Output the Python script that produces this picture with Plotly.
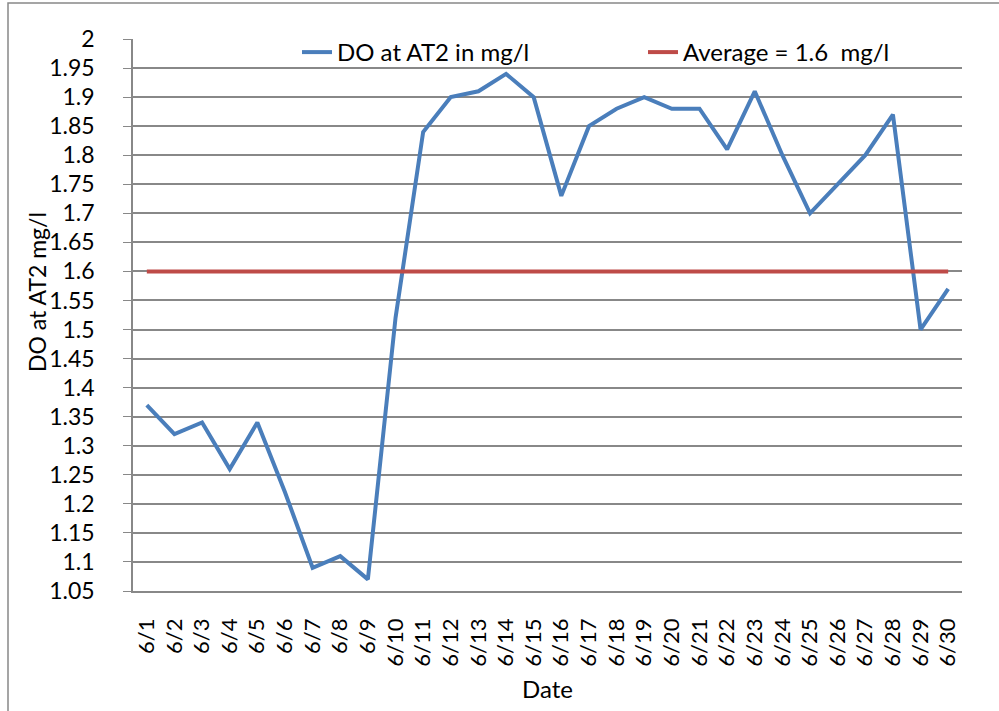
import plotly.graph_objects as go

# DO readings at AT2 for June
dates = ["6/" + str(d) for d in range(1, 31)]
do_at2 = [1.37, 1.32, 1.34, 1.26, 1.34, 1.22, 1.09, 1.11, 1.07, 1.52,
          1.84, 1.90, 1.91, 1.94, 1.90, 1.73, 1.85, 1.88, 1.90, 1.88,
          1.88, 1.81, 1.91, 1.80, 1.70, 1.75, 1.80, 1.87, 1.50, 1.57]
average = 1.6
y_ticks = [round(1.05 + 0.05 * i, 2) for i in range(20)]
y_labels = ["%g" % v for v in y_ticks]

W, H = 999, 711
L, R, T, B = 133, 37, 39, 120
pw, ph = W - L - R, H - T - B

def px_x(p):
    return (p - L) / pw

def px_y(p):
    return (H - B - p) / ph

font = "Lato, Carlito, Calibri, sans-serif"

fig = go.Figure()
fig.add_trace(go.Scatter(x=dates, y=do_at2, mode="lines", name="DO at AT2 in mg/l",
                         line=dict(color="#4a7ebb", width=4)))
fig.add_trace(go.Scatter(x=[dates[0], dates[-1]], y=[average, average], mode="lines",
                         name="Average = 1.6  mg/l",
                         line=dict(color="#be4b48", width=4)))

fig.update_layout(
    width=W, height=H,
    margin=dict(l=L, r=R, t=T, b=B, autoexpand=False),
    paper_bgcolor="white", plot_bgcolor="white",
    font=dict(family=font, size=22, color="black"),
    showlegend=True,
    legend=dict(orientation="h", x=px_x(297), y=px_y(30), xanchor="left", yanchor="top",
                entrywidth=301, entrywidthmode="pixels",
                bgcolor="rgba(0,0,0,0)", font=dict(size=24)),
    xaxis=dict(type="category", range=[-0.5, len(dates) - 0.5], tickangle=-90,
               showgrid=False, showline=True, linecolor="#888888", linewidth=1.5,
               ticks="", tickfont=dict(size=22), ticklabelstandoff=17),
    yaxis=dict(range=[1.05, 2.0], tickvals=y_ticks, ticktext=y_labels,
               showgrid=True, gridcolor="#888888", gridwidth=1.5,
               showline=True, linecolor="#888888", linewidth=1.5,
               ticks="outside", ticklen=8, tickcolor="#888888",
               tickfont=dict(size=23), ticklabelstandoff=24, zeroline=False),
    annotations=[
        dict(text="DO at AT2 mg/l", xref="paper", yref="paper", x=px_x(37), y=px_y(292),
             textangle=-90, showarrow=False, xanchor="center", yanchor="middle",
             font=dict(size=23)),
        dict(text="Date", xref="paper", yref="paper", x=px_x(547), y=px_y(688),
             showarrow=False, xanchor="center", yanchor="middle", font=dict(size=24)),
    ],
    shapes=[dict(type="rect", xref="paper", yref="paper",
                 x0=px_x(8), x1=px_x(1010), y0=px_y(3), y1=px_y(730),
                 line=dict(color="#888888", width=1.5), layer="below")],
)

fig.write_html("out.html", config={"displayModeBar": False},
               post_script="document.body.style.margin='0';")
